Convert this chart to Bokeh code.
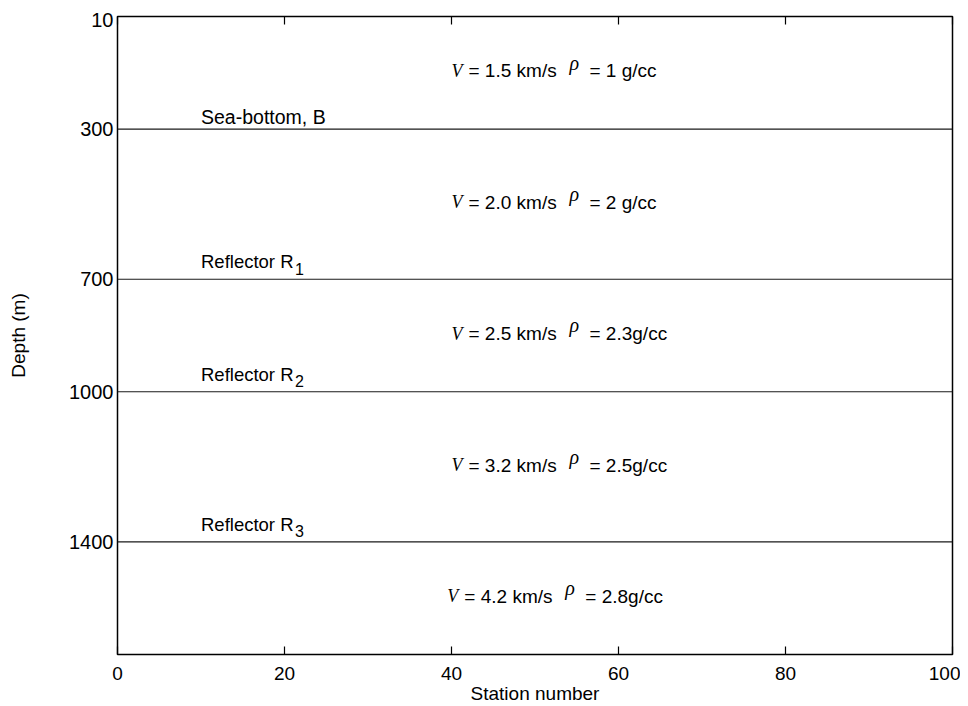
from bokeh.plotting import figure
from bokeh.models import Range1d, LinearAxis, FixedTicker, ColumnDataSource
from bokeh.core.properties import value
from bokeh.embed import file_html
from bokeh.resources import INLINE

# ---------------- data ----------------
x_start, x_end = 0, 100
depth_top, depth_bottom = 0, 1700
x_ticks = [0, 20, 40, 60, 80, 100]
y_ticks = [10, 300, 700, 1000, 1400]

reflector_depths = [300, 700, 1000, 1400]
reflector_names = ["Sea-bottom, B", "Reflector R", "Reflector R", "Reflector R"]
reflector_subs = ["", "1", "2", "3"]
reflector_label_x = [10, 10, 10, 10]

layer_tops = [0, 300, 700, 1000, 1400]
layer_bottoms = [300, 700, 1000, 1400, 1700]
layer_velocity = ["1.5", "2.0", "2.5", "3.2", "4.2"]
layer_density = ["1 g/cc", "2 g/cc", "2.3g/cc", "2.5g/cc", "2.8g/cc"]
layer_label_x = [40, 40, 40, 40, 39.5]

# ---------------- layout ----------------
W, H = 960, 706
BL, BR, BT, BB = 117, 8, 16, 51
frame_h = H - BT - BB
d_per_px = (depth_bottom - depth_top) / frame_h

SANS = value("Liberation Sans")
SERIF = value("Liberation Serif")

p = figure(width=W, height=H, output_backend="svg", toolbar_location=None,
           x_range=Range1d(x_start, x_end), y_range=Range1d(depth_bottom, depth_top),
           min_border_left=BL, min_border_right=BR, min_border_top=BT, min_border_bottom=BB,
           x_axis_location="below", y_axis_location="left")
p.background_fill_color = "white"
p.border_fill_color = "white"
p.outline_line_color = "black"
p.outline_line_width = 1.5
p.xgrid.visible = False
p.ygrid.visible = False

# bottom axis
xa = p.xaxis[0]
xa.ticker = FixedTicker(ticks=x_ticks)
xa.major_tick_in = 8
xa.major_tick_out = 0
xa.major_tick_line_width = 1.2
xa.minor_tick_line_color = None
xa.axis_line_color = None
xa.major_tick_line_color = "black"
xa.major_label_text_font = "Liberation Sans"
xa.major_label_text_font_size = "19px"
xa.major_label_text_color = "black"
xa.major_label_standoff = 12
xa.axis_label = "Station number"
xa.axis_label_text_font = "Liberation Sans"
xa.axis_label_text_font_size = "19px"
xa.axis_label_text_font_style = "normal"
xa.axis_label_text_color = "black"
xa.axis_label_standoff = 0

# top axis (ticks only)
ta = LinearAxis(ticker=FixedTicker(ticks=x_ticks), major_tick_in=8, major_tick_out=0,
                major_tick_line_width=1.2, major_tick_line_color="black",
                minor_tick_line_color=None, axis_line_color=None,
                major_label_text_font_size="0px", major_label_standoff=0,
                major_label_text_color=None)
p.add_layout(ta, "above")

# left axis
ya = p.yaxis[0]
ya.ticker = FixedTicker(ticks=y_ticks)
ya.major_tick_in = 0
ya.major_tick_out = 0
ya.minor_tick_line_color = None
ya.axis_line_color = None
ya.major_label_text_font = "Liberation Sans"
ya.major_label_text_font_size = "20px"
ya.major_label_text_color = "black"
ya.major_label_standoff = 4
ya.axis_label = "Depth (m)"
ya.axis_label_text_font = "Liberation Sans"
ya.axis_label_text_font_size = "19px"
ya.axis_label_text_font_style = "normal"
ya.axis_label_text_color = "black"
ya.axis_label_standoff = 37

# reflector lines
ref_src = ColumnDataSource(dict(
    x0=[x_start] * len(reflector_depths), x1=[x_end] * len(reflector_depths),
    y=reflector_depths))
p.segment(x0="x0", x1="x1", y0="y", y1="y", source=ref_src,
          line_color="#1a1a1a", line_width=1.1)

# reflector labels
for name, sub, d, lx in zip(reflector_names, reflector_subs, reflector_depths, reflector_label_x):
    if sub == "":
        p.text(x=[lx], y=[d - 12.5 * d_per_px], text=[name], text_font=SANS,
               text_font_size="19.5px", text_baseline="alphabetic", text_align="left",
               text_color="black")
    else:
        p.text(x=[lx], y=[d - 17.5 * d_per_px], text=[name], text_font=SANS,
               text_font_size="18.5px", text_baseline="alphabetic", text_align="left",
               text_color="black")
        p.text(x=[lx], y=[d - 10.5 * d_per_px], text=[sub], text_font=SANS,
               text_font_size="16px", text_baseline="alphabetic", text_align="left",
               text_color="black", x_offset=94)

# layer labels
mids = [(a + b) / 2 for a, b in zip(layer_tops, layer_bottoms)]
base_y = [m - 1.8 * d_per_px for m in mids]
rho_y = [m - 10.3 * d_per_px for m in mids]
p.text(x=layer_label_x, y=base_y, text=["V"] * len(mids), text_font=SERIF,
       text_font_style="italic", text_font_size="18px", text_baseline="alphabetic",
       text_align="left", text_color="black")
p.text(x=layer_label_x, y=base_y, text=["= %s km/s" % v for v in layer_velocity],
       text_font=SANS, text_font_size="19px", text_baseline="alphabetic",
       text_align="left", text_color="black", x_offset=17)
p.text(x=layer_label_x, y=rho_y, text=["\u03c1"] * len(mids), text_font=SERIF,
       text_font_style="italic", text_font_size="20px", text_baseline="alphabetic",
       text_align="left", text_color="black", x_offset=118)
p.text(x=layer_label_x, y=base_y, text=["= %s" % d for d in layer_density],
       text_font=SANS, text_font_size="19px", text_baseline="alphabetic",
       text_align="left", text_color="black", x_offset=138)

open("out.html", "w").write(file_html(p, INLINE))
